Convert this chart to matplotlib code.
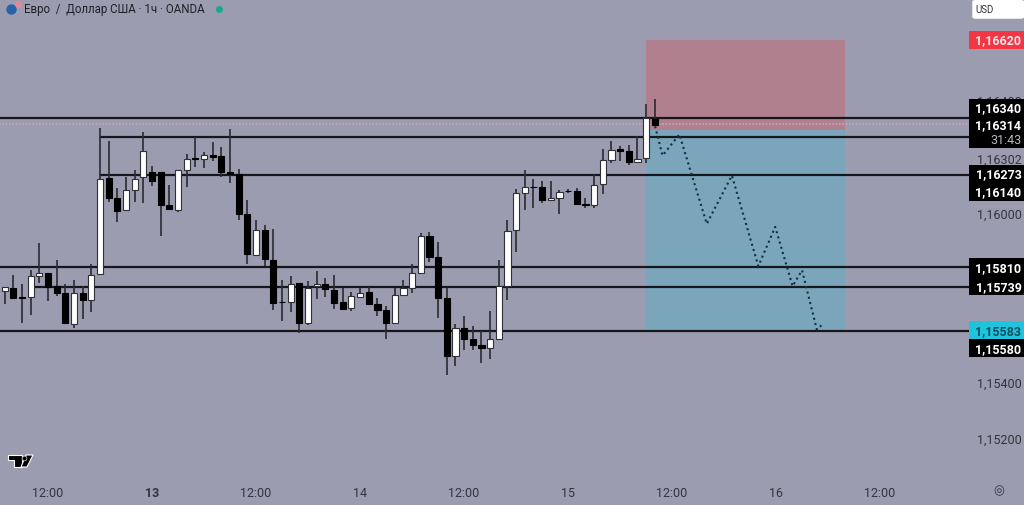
import matplotlib
matplotlib.use('Agg')
import matplotlib.pyplot as plt
from matplotlib.patches import Rectangle, Polygon, FancyBboxPatch

# hours counted from 12:00 on the 12th
firstHour = -5

opens = [1.15723, 1.15733, 1.15700, 1.15701, 1.15776, 1.15785, 1.15741, 1.15715, 1.15605, 1.15714, 1.15690,
         1.15783, 1.16121, 1.16052, 1.16008, 1.16079, 1.16125, 1.16144, 1.16145, 1.16028, 1.16008, 1.16152,
         1.16195, 1.16190, 1.16203, 1.16200, 1.16143, 1.16138, 1.15995, 1.15851, 1.15939, 1.15832, 1.15684,
         1.15683, 1.15749, 1.15609, 1.15739, 1.15748, 1.15727, 1.15684, 1.15660, 1.15700, 1.15717, 1.15676,
         1.15654, 1.15609, 1.15706, 1.15733, 1.15785, 1.15916, 1.15843, 1.15698, 1.15493, 1.15591, 1.15550,
         1.15531, 1.15520, 1.15553, 1.15739, 1.15939, 1.16070, 1.16091, 1.16090, 1.16045, 1.16052, 1.16077,
         1.16077, 1.16029, 1.16027, 1.16102, 1.16187, 1.16224, 1.16219, 1.16180, 1.16193, 1.16333]
highs = [1.15735, 1.15778, 1.15748, 1.15795, 1.15893, 1.15787, 1.15831, 1.15748, 1.15760, 1.15739, 1.15819,
         1.16301, 1.16255, 1.16088, 1.16127, 1.16150, 1.16285, 1.16164, 1.16145, 1.16099, 1.16152, 1.16208,
         1.16268, 1.16214, 1.16249, 1.16233, 1.16297, 1.16155, 1.16046, 1.15975, 1.15955, 1.15943, 1.15762,
         1.15774, 1.15749, 1.15756, 1.15791, 1.15768, 1.15777, 1.15733, 1.15717, 1.15733, 1.15735, 1.15698,
         1.15670, 1.15733, 1.15760, 1.15816, 1.15926, 1.15932, 1.15895, 1.15733, 1.15605, 1.15632, 1.15597,
         1.15579, 1.15652, 1.15830, 1.15973, 1.16084, 1.16149, 1.16120, 1.16111, 1.16111, 1.16079, 1.16084,
         1.16088, 1.16052, 1.16135, 1.16226, 1.16253, 1.16235, 1.16238, 1.16271, 1.16383, 1.16401]
lows = [1.15674, 1.15696, 1.15610, 1.15635, 1.15751, 1.15685, 1.15703, 1.15607, 1.15591, 1.15621, 1.15648,
        1.15783, 1.16037, 1.15966, 1.16005, 1.16037, 1.16034, 1.16093, 1.15918, 1.16011, 1.16001, 1.16090,
        1.16161, 1.16158, 1.16182, 1.16127, 1.16103, 1.15973, 1.15816, 1.15845, 1.15812, 1.15654, 1.15615,
        1.15648, 1.15573, 1.15600, 1.15694, 1.15701, 1.15659, 1.15659, 1.15650, 1.15700, 1.15675, 1.15632,
        1.15550, 1.15609, 1.15706, 1.15713, 1.15785, 1.15824, 1.15627, 1.15423, 1.15455, 1.15514, 1.15512,
        1.15465, 1.15479, 1.15553, 1.15689, 1.15861, 1.16008, 1.16017, 1.16032, 1.16045, 1.15995, 1.16070,
        1.16029, 1.16017, 1.16017, 1.16067, 1.16176, 1.16184, 1.16167, 1.16180, 1.16174, 1.16306]
closes = [1.15735, 1.15696, 1.15696, 1.15776, 1.15785, 1.15735, 1.15713, 1.15607, 1.15716, 1.15689, 1.15778,
          1.16120, 1.16052, 1.16005, 1.16079, 1.16120, 1.16217, 1.16110, 1.16027, 1.16011, 1.16152, 1.16191,
          1.16190, 1.16203, 1.16198, 1.16145, 1.16137, 1.15995, 1.15854, 1.15937, 1.15834, 1.15680, 1.15683,
          1.15748, 1.15609, 1.15734, 1.15748, 1.15730, 1.15680, 1.15659, 1.15703, 1.15716, 1.15675, 1.15654,
          1.15609, 1.15706, 1.15734, 1.15785, 1.15916, 1.15841, 1.15698, 1.15493, 1.15590, 1.15550, 1.15532,
          1.15519, 1.15551, 1.15738, 1.15936, 1.16070, 1.16090, 1.16090, 1.16046, 1.16050, 1.16073, 1.16076,
          1.16029, 1.16028, 1.16097, 1.16185, 1.16223, 1.16219, 1.16178, 1.16191, 1.16336, 1.16312]

# horizontal levels: price, first hour
levelPrices = [1.16334, 1.16267, 1.16133, 1.15807, 1.15736, 1.15580]
levelStarts = [-6, 6, 6, -6, -1.5, -6]
currentPrice = 1.16314

# short position box
boxStart = 69
boxEnd = 92
stopPrice = 1.16613
entryPrice = 1.16294
targetPrice = 1.15578

# dotted forecast path
pathHours = [70.04, 70.9, 72.84, 76, 78.9, 81.95, 83.9, 85.9, 87, 88.7, 89.4]
pathPrices = [1.16306, 1.16202, 1.16277, 1.15960, 1.16131, 1.15810, 1.15949, 1.15739, 1.15795, 1.15585, 1.15605]

timeHours = [0, 12, 24, 36, 48, 60, 72, 84, 96]
timeLabels = ['12:00', '13', '12:00', '14', '12:00', '15', '12:00', '16', '12:00']

scaleLabels = ['1,16400', '1,16302', '1,16000', '1,15600', '1,15400', '1,15200']
scalePrices = [1.16400, 1.16195, 1.16000, 1.15600, 1.15400, 1.15200]

# right hand price tags: text, price, box colour, text colour
tagTexts = ['1,16620', '1,16340', '1,16314', '31:43', '1,16273', '1,16140', '1,15810', '1,15739', '1,15583', '1,15580']
tagPrices = [1.16613, 1.16372, 1.16312, 1.16259, 1.16138, 1.16074, 1.15805, 1.15738, 1.15582, 1.15518]
tagColors = ['#f23645', 'black', 'black', 'black', 'black', 'black', 'black', 'black', '#1fc4dc', 'black']
tagTextColors = ['#f4e4e6', 'white', 'white', '#b8b8c0', 'white', 'white', 'white', 'white', '#10505f', 'white']

bg = '#9c9cb0'
scaleColor = '#33333e'

plt.rcParams['font.family'] = ['Roboto', 'DejaVu Sans']

fig = plt.figure(figsize=(10.24, 5.06), dpi=100, facecolor=bg)
ax = fig.add_axes([0, 0, 1, 1], facecolor=bg)
ax.set_xlim(-5.538, 112.6)
ax.set_ylim(1.14963, 1.16757)
for s in ax.spines.values():
    s.set_visible(False)

ax.add_patch(Rectangle((boxStart, entryPrice), boxEnd - boxStart, stopPrice - entryPrice,
                       facecolor='#b0808f', edgecolor='none', zorder=1))
ax.add_patch(Rectangle((boxStart, targetPrice), boxEnd - boxStart, entryPrice - targetPrice,
                       facecolor='#7ba5bb', edgecolor='none', zorder=1))

for p, st in zip(levelPrices, levelStarts):
    ax.plot([st, 106.5], [p, p], color='#16161c', lw=1.6, zorder=2, solid_capstyle='butt')
ax.plot([-6, 106.5], [currentPrice, currentPrice], color='#cfa3b2', lw=1.2, ls=(0, (1, 1)), zorder=2)

# candles
for i in range(len(opens)):
    h = firstHour + i
    ax.plot([h, h], [lows[i], highs[i]], color='#2b2b33', lw=1.2, zorder=3, solid_capstyle='butt')
    bottom = min(opens[i], closes[i])
    height = abs(closes[i] - opens[i])
    face = 'white' if closes[i] > opens[i] else 'black'
    ax.add_patch(Rectangle((h - 0.36, bottom), 0.72, height, facecolor=face,
                           edgecolor='#303038' if face == 'white' else 'black', lw=0.8, zorder=4))

ax.plot(pathHours, pathPrices, color='#12303f', lw=1.5, ls=(0, (1, 1.6)), zorder=5)

# time scale
ax.set_xticks(timeHours)
ax.set_xticklabels(timeLabels)
ax.tick_params(axis='x', direction='in', length=0, pad=-14, labelsize=9, colors=scaleColor)
ax.get_xticklabels()[1].set_fontweight('bold')

# price scale
ax.yaxis.tick_right()
ax.set_yticks(scalePrices)
ax.set_yticklabels(scaleLabels)
ax.tick_params(axis='y', direction='in', length=0, pad=-34, labelsize=9, colors=scaleColor)

trans = ax.get_yaxis_transform()
for t, p, c, tc in zip(tagTexts, tagPrices, tagColors, tagTextColors):
    ax.add_patch(Rectangle((0.9465, p - 0.00032), 0.0535, 0.00064, transform=trans,
                           facecolor=c, edgecolor='none', zorder=6))
    ax.text(0.9975, p, t, transform=trans, ha='right', va='center', color=tc, fontsize=9,
            fontweight='bold' if t != '31:43' else 'normal', zorder=7)

# header
axes = ax.transAxes
ax.plot([0.0108], [0.980], 'o', ms=7.5, color='#2a62a8', mec='none', transform=axes, zorder=7)
ax.plot([0.0178], [0.9895], 'o', ms=5, color='#e08a95', mec='none', transform=axes, zorder=7)
ax.text(0.0235, 0.981, 'Евро  /  Доллар США · 1ч · OANDA', transform=axes, va='center', fontsize=8.3,
        color='#202028', zorder=7)
ax.plot([0.2137], [0.981], 'o', ms=5, color='#1aa68c', mec='none', transform=axes, zorder=7)

# currency button
ax.add_patch(FancyBboxPatch((0.9495, 0.961), 0.0505, 0.037, boxstyle='round,pad=0,rounding_size=0.003',
                            transform=axes, facecolor='white', edgecolor='none', zorder=7))
ax.text(0.9525, 0.981, 'USD', transform=axes, va='center', fontsize=7, color='#303038', zorder=8)

# logo, pixel outline scaled to the axes
def px(points):
    return [(x / 1024, 1 - y / 506) for x, y in points]

logoParts = [
    [(8, 455.5), (22, 455.5), (22, 468), (14, 468), (14, 461), (8, 461)],
    [(26, 456), (33, 456), (27, 468), (21, 468)],
]
for part in logoParts:
    ax.add_patch(Polygon(px(part), closed=True, transform=axes, facecolor='black', edgecolor='white', lw=0.8, zorder=7))
ax.plot([0.0238], [1 - 458.5 / 506], 'o', ms=3.5, color='black', mec='white', mew=0.4, transform=axes, zorder=8)

# settings marker
ax.text(0.9755, 0.0295, '◎', transform=axes, fontsize=9, color=scaleColor, ha='center', va='center',
        family=['DejaVu Sans'], zorder=7)

fig.savefig('out.png', dpi=100, facecolor=bg)
